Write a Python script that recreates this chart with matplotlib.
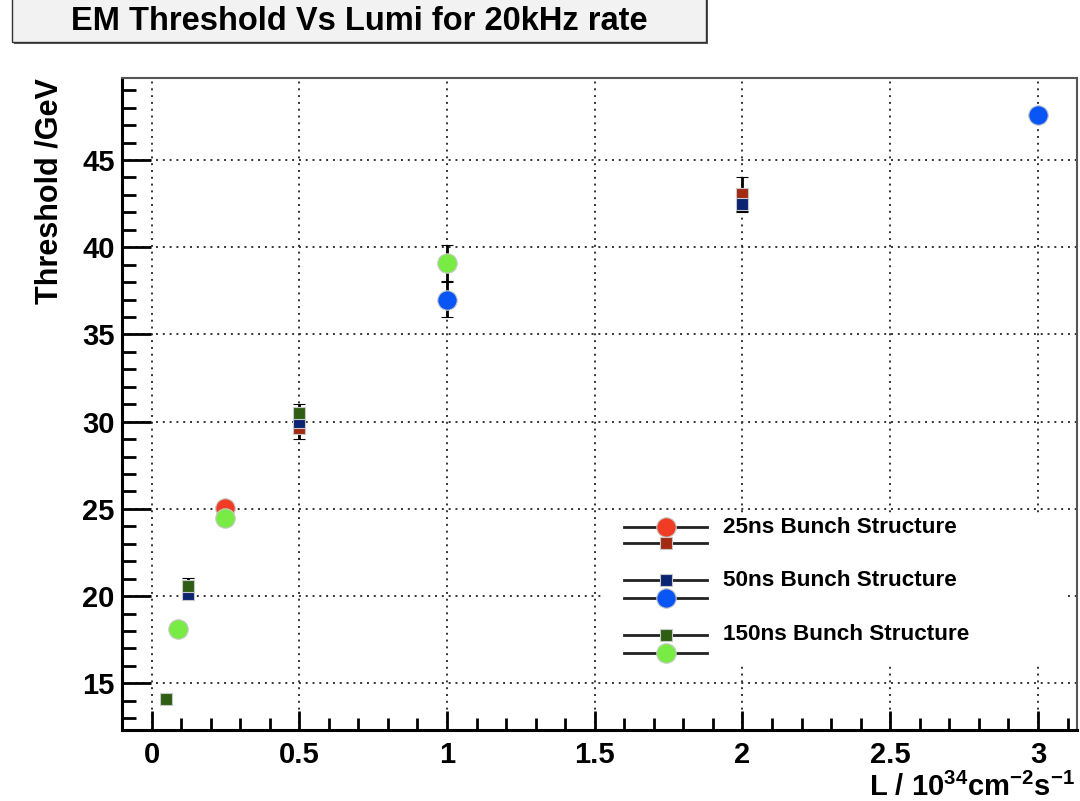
import numpy as np
import matplotlib.pyplot as plt
from matplotlib.patches import Rectangle
from matplotlib.lines import Line2D

plt.rcParams['font.family'] = ['Liberation Sans', 'DejaVu Sans']
plt.rcParams['font.weight'] = 'bold'
plt.rcParams['mathtext.default'] = 'regular'

# EM threshold (GeV) for a 20 kHz rate, per luminosity (10^34 cm^-2 s^-1)
lumi_25_a = [0.25]
thr_25_a = [25.05]
err_25_a = [0.0]

lumi_25_b = [0.5, 2.0]
thr_25_b = [29.65, 43.05]
err_25_b = [0.65, 1.0]

lumi_50_a = [0.125, 0.5, 2.0]
thr_50_a = [20.1, 30.0, 42.5]
err_50_a = [0.0, 0.3, 0.5]

lumi_50_b = [1.0, 3.0]
thr_50_b = [37.0, 47.6]
err_50_b = [1.0, 0.0]

lumi_150_a = [0.05, 0.125, 0.5]
thr_150_a = [14.1, 20.6, 30.5]
err_150_a = [0.0, 0.45, 0.5]

lumi_150_b = [0.09, 0.25, 1.0]
thr_150_b = [18.1, 24.5, 39.1]
err_150_b = [0.0, 0.4, 1.05]

xticks = [0, 0.5, 1, 1.5, 2, 2.5, 3]
xticklabels = ['0', '0.5', '1', '1.5', '2', '2.5', '3']
yticks = [15, 20, 25, 30, 35, 40, 45]

legend_labels = ['25ns Bunch Structure', '50ns Bunch Structure', '150ns Bunch Structure']

red = '#f03c24'
darkred = '#a22a12'
navy = '#0a2472'
blue = '#0a55f5'
darkgreen = '#2e5e14'
lightgreen = '#78ec44'

fig = plt.figure(figsize=(10.8, 8.01), dpi=100)
ax = fig.add_axes([0.1127, 0.0886, 0.8845, 0.8136])

ax.set_xlim(-0.1008, 3.132)
ax.set_ylim(12.32, 49.68)

series = [
    (lumi_25_a, thr_25_a, err_25_a, 'o', 14, red),
    (lumi_25_b, thr_25_b, err_25_b, 's', 8, darkred),
    (lumi_50_a, thr_50_a, err_50_a, 's', 8, navy),
    (lumi_50_b, thr_50_b, err_50_b, 'o', 14, blue),
    (lumi_150_a, thr_150_a, err_150_a, 's', 8, darkgreen),
    (lumi_150_b, thr_150_b, err_150_b, 'o', 14, lightgreen),
]
for x, y, e, m, ms, c in series:
    ax.errorbar(x, y, yerr=e, fmt=m, ms=ms, color=c, mec='#c8c8c8', mew=0.8,
                ecolor='black', elinewidth=2, capsize=4, capthick=2, zorder=3)

# axes styling
ax.set_xticks(xticks)
ax.set_xticklabels(xticklabels)
ax.set_yticks(yticks)
ax.xaxis.set_minor_locator(plt.MultipleLocator(0.1))
ax.yaxis.set_minor_locator(plt.MultipleLocator(1))
ax.tick_params(axis='both', which='both', direction='in', top=False, right=False,
               labelsize=21, color='black', width=2)
ax.tick_params(axis='y', which='major', length=21, pad=5)
ax.tick_params(axis='y', which='minor', length=10)
ax.tick_params(axis='x', which='major', length=14, pad=8)
ax.tick_params(axis='x', which='minor', length=8.5)
for lab in ax.get_xticklabels() + ax.get_yticklabels():
    lab.set_fontweight('bold')

ax.grid(True, which='major', color='#333333', linestyle=(0, (1, 2.5)), linewidth=1.4)
ax.set_axisbelow(True)

for s in ['left', 'bottom']:
    ax.spines[s].set_linewidth(2.2)
    ax.spines[s].set_color('black')
for s in ['top', 'right']:
    ax.spines[s].set_linewidth(1.5)
    ax.spines[s].set_color('#555555')

ax.set_ylabel('Threshold /GeV', fontsize=22, fontweight='bold', loc='top')
ax.yaxis.set_label_coords(-0.06, 1.0)
ax.set_xlabel('L / 10$^{34}$cm$^{-2}$s$^{-1}$', fontsize=21, fontweight='bold', loc='right')
ax.xaxis.set_label_coords(0.998, -0.066)

# legend box drawn in axes coordinates
ax.add_patch(Rectangle((0.504, 0.103), 0.486, 0.224, transform=ax.transAxes,
                       facecolor='white', edgecolor='none', zorder=4))
rows = [
    (0.3115, 'o', 14, red, legend_labels[0]),
    (0.287, 's', 8, darkred, None),
    (0.230, 's', 8, navy, legend_labels[1]),
    (0.2025, 'o', 14, blue, None),
    (0.146, 's', 8, darkgreen, legend_labels[2]),
    (0.118, 'o', 14, lightgreen, None),
]
for ypos, m, ms, c, lab in rows:
    ax.add_line(Line2D([0.526, 0.613], [ypos, ypos], transform=ax.transAxes,
                       color='#222222', lw=2, zorder=5))
    ax.add_line(Line2D([0.570], [ypos], transform=ax.transAxes, marker=m, ms=ms,
                       color=c, mec='#c8c8c8', mew=0.8, zorder=6))
    if lab:
        ax.text(0.629, ypos, lab, transform=ax.transAxes, fontsize=16.2,
                fontweight='bold', va='center', ha='left', zorder=6)

# title box with shadow
fig.patches.append(Rectangle((14 / 1080, (801 - 44) / 801), 694 / 1080, 60 / 801,
                             transform=fig.transFigure, facecolor='#555555',
                             edgecolor='none', zorder=1))
fig.patches.append(Rectangle((12 / 1080, (801 - 42) / 801), 694 / 1080, 60 / 801,
                             transform=fig.transFigure, facecolor='#f2f2f2',
                             edgecolor='#333333', lw=1, zorder=2))
fig.text(359 / 1080, (801 - 21) / 801, 'EM Threshold Vs Lumi for 20kHz rate',
         fontsize=23.5, fontweight='bold', ha='center', va='center', zorder=3)

fig.savefig('out.png', dpi=100)
